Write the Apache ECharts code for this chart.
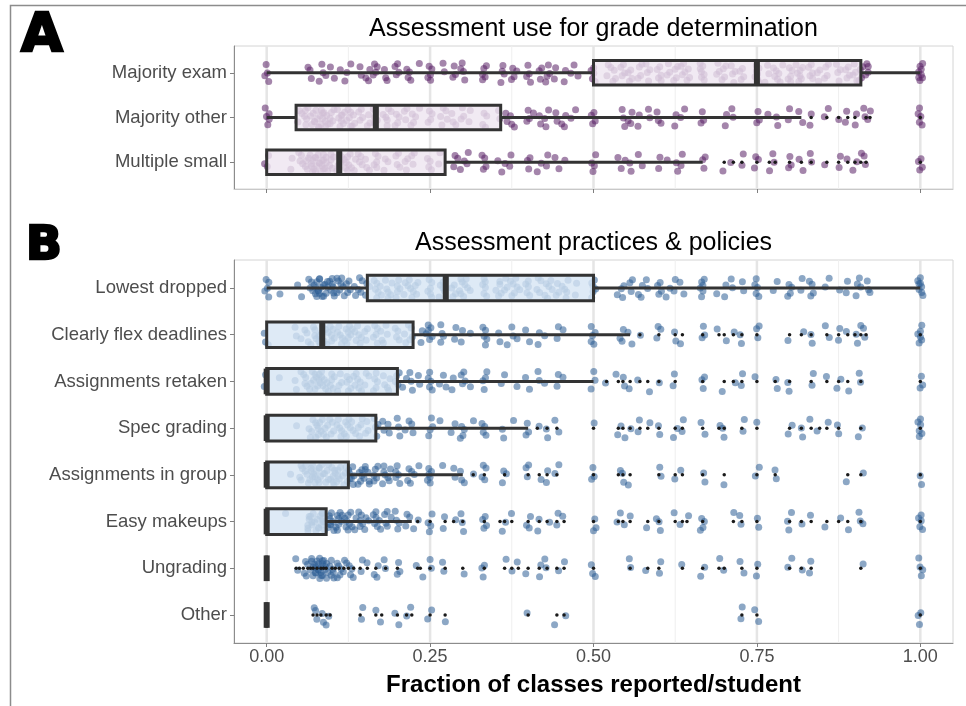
<!DOCTYPE html>
<html>
<head>
<meta charset="utf-8">
<script src="https://cdn.jsdelivr.net/npm/echarts@6/dist/echarts.min.js"></script>
<style>
  html, body { margin: 0; padding: 0; background: #ffffff; }
  #chart { width: 966px; height: 706px; }
</style>
</head>
<body>
<div id="chart"></div>
<script>
// ---- categories and axis ticks ----
const gradeUseCategories = ['Majority exam', 'Majority other', 'Multiple small'];
const practiceCategories = ['Lowest dropped', 'Clearly flex deadlines', 'Assignments retaken', 'Spec grading',
  'Assignments in group', 'Easy makeups', 'Ungrading', 'Other'];
const xTickValues = [0, 0.25, 0.5, 0.75, 1];
const xMinorValues = [0.125, 0.375, 0.625, 0.875];

// ---- student responses: [fraction of classes, number of students] ----
const majorityExam = [[0,4],[0.06,1],[0.067,2],[0.083,3],[0.091,1],[0.1,2],[0.111,1],[0.12,1],[0.125,2],[0.143,2],
  [0.154,3],[0.167,4],[0.182,2],[0.188,1],[0.2,4],[0.214,2],[0.222,2],[0.231,1],[0.25,5],[0.273,2],[0.286,3],[0.3,4],
  [0.333,5],[0.357,2],[0.364,2],[0.375,3],[0.385,1],[0.4,4],[0.417,3],[0.429,4],[0.444,2],[0.455,2],[0.467,1],[0.474,2],
  [0.5,5],[0.524,3],[0.533,3],[0.545,4],[0.556,4],[0.571,4],[0.583,4],[0.6,5],[0.615,3],[0.625,4],[0.636,4],[0.643,3],
  [0.667,7],[0.692,3],[0.7,4],[0.714,4],[0.727,4],[0.75,7],[0.765,3],[0.778,4],[0.786,3],[0.8,5],[0.812,3],[0.818,4],
  [0.833,5],[0.846,3],[0.857,4],[0.875,4],[0.889,4],[0.9,4],[0.909,4],[0.917,3],[0.923,1],[1,8]];
const majorityOther = [[0,5],[0.048,2],[0.056,3],[0.063,3],[0.071,4],[0.077,4],[0.083,6],[0.091,5],[0.1,5],[0.111,5],
  [0.118,3],[0.125,5],[0.133,3],[0.143,4],[0.154,3],[0.167,5],[0.182,3],[0.188,3],[0.2,4],[0.214,3],[0.222,3],[0.231,2],
  [0.25,4],[0.267,2],[0.273,3],[0.286,3],[0.3,3],[0.308,2],[0.333,4],[0.357,2],[0.364,2],[0.375,3],[0.4,3],[0.412,1],
  [0.417,2],[0.429,3],[0.444,2],[0.455,3],[0.467,1],[0.476,1],[0.5,4],[0.545,3],[0.556,3],[0.571,2],[0.583,2],[0.6,3],
  [0.625,2],[0.636,2],[0.667,3],[0.7,2],[0.714,2],[0.75,3],[0.769,1],[0.778,2],[0.8,2],[0.818,2],[0.833,2],[0.857,2],
  [0.875,1],[0.889,2],[0.9,2],[0.917,3],[0.923,1],[1,5]];
const multipleSmall = [[0,3],[0.04,2],[0.048,2],[0.056,3],[0.063,3],[0.067,3],[0.071,4],[0.077,5],[0.083,6],[0.091,5],
  [0.1,5],[0.111,4],[0.118,3],[0.125,5],[0.133,3],[0.143,4],[0.154,3],[0.167,5],[0.182,3],[0.2,4],[0.214,3],[0.222,3],
  [0.25,4],[0.267,2],[0.286,2],[0.294,1],[0.3,2],[0.308,2],[0.333,4],[0.357,2],[0.364,1],[0.375,2],[0.4,3],[0.417,2],
  [0.429,2],[0.444,2],[0.455,1],[0.5,4],[0.538,1],[0.545,2],[0.556,2],[0.571,2],[0.6,2],[0.615,1],[0.625,2],[0.636,2],
  [0.667,3],[0.7,1],[0.714,1],[0.727,2],[0.75,3],[0.769,1],[0.778,2],[0.8,3],[0.818,2],[0.833,2],[0.857,1],[0.875,2],
  [0.889,1],[0.9,2],[0.909,1],[0.917,2],[1,4]];

const lowestDropped = [[0,5],[0.019,1],[0.048,1],[0.056,1],[0.063,2],[0.071,4],[0.077,5],[0.083,6],[0.091,5],[0.1,5],
  [0.105,3],[0.111,4],[0.118,3],[0.125,4],[0.133,2],[0.143,4],[0.154,3],[0.167,5],[0.176,2],[0.182,3],[0.188,3],[0.2,5],
  [0.214,3],[0.222,4],[0.231,3],[0.25,6],[0.267,3],[0.273,3],[0.286,4],[0.294,2],[0.3,4],[0.308,3],[0.333,6],[0.353,2],
  [0.357,3],[0.364,3],[0.375,4],[0.385,3],[0.4,5],[0.417,4],[0.429,4],[0.438,2],[0.444,3],[0.455,3],[0.462,2],[0.471,2],
  [0.5,6],[0.533,1],[0.545,3],[0.556,3],[0.571,3],[0.583,2],[0.6,4],[0.615,2],[0.625,2],[0.636,2],[0.667,6],[0.692,1],
  [0.7,2],[0.714,2],[0.727,2],[0.75,5],[0.778,2],[0.8,4],[0.818,2],[0.833,4],[0.857,2],[0.875,1],[0.889,2],[0.9,2],
  [0.909,2],[0.917,2],[0.923,1],[1,8]];
const flexDeadlines = [[0,3],[0.045,2],[0.056,2],[0.063,2],[0.071,3],[0.077,3],[0.083,5],[0.091,4],[0.1,5],[0.111,4],
  [0.118,3],[0.125,5],[0.133,3],[0.143,4],[0.154,3],[0.167,5],[0.176,2],[0.182,3],[0.2,4],[0.214,3],[0.222,3],[0.235,2],
  [0.245,1],[0.25,5],[0.263,1],[0.267,2],[0.273,1],[0.286,2],[0.3,2],[0.308,1],[0.333,5],[0.357,2],[0.364,1],[0.375,2],
  [0.385,1],[0.4,2],[0.417,2],[0.429,1],[0.444,2],[0.455,1],[0.5,5],[0.538,1],[0.545,2],[0.556,2],[0.571,1],[0.6,3],
  [0.625,2],[0.636,1],[0.667,3],[0.692,1],[0.7,1],[0.714,1],[0.727,2],[0.75,3],[0.8,1],[0.818,1],[0.833,2],[0.857,2],
  [0.875,2],[0.889,1],[0.9,2],[0.909,1],[0.917,2],[1,6]];
const assignmentsRetaken = [[0,2],[0.017,1],[0.045,2],[0.056,3],[0.063,3],[0.071,4],[0.077,4],[0.083,5],[0.091,4],
  [0.1,5],[0.111,4],[0.125,5],[0.133,3],[0.143,4],[0.154,3],[0.167,5],[0.182,3],[0.188,2],[0.2,4],[0.211,2],[0.222,3],
  [0.231,2],[0.25,5],[0.267,2],[0.273,1],[0.286,2],[0.3,4],[0.308,1],[0.333,4],[0.357,1],[0.364,1],[0.385,1],[0.4,2],
  [0.417,2],[0.429,1],[0.444,2],[0.455,1],[0.5,3],[0.52,1],[0.538,1],[0.545,2],[0.556,1],[0.571,1],[0.583,1],[0.6,1],
  [0.625,2],[0.667,3],[0.7,1],[0.714,1],[0.727,2],[0.75,1],[0.778,2],[0.8,2],[0.833,2],[0.857,1],[0.875,2],[0.889,1],
  [0.909,2],[1,3]];
const specGrading = [[0.048,1],[0.063,2],[0.071,3],[0.077,3],[0.083,4],[0.091,4],[0.1,4],[0.111,4],[0.118,3],[0.125,4],
  [0.133,3],[0.143,4],[0.154,3],[0.167,4],[0.176,2],[0.188,2],[0.2,3],[0.214,2],[0.222,2],[0.25,4],[0.267,1],[0.286,2],
  [0.3,4],[0.316,1],[0.333,4],[0.364,2],[0.375,1],[0.4,3],[0.414,1],[0.429,2],[0.444,2],[0.5,1],[0.538,1],[0.545,2],
  [0.556,1],[0.571,2],[0.583,1],[0.6,2],[0.625,2],[0.636,2],[0.667,2],[0.692,1],[0.7,2],[0.727,2],[0.75,1],[0.8,2],
  [0.818,2],[0.833,1],[0.846,1],[0.857,1],[0.875,2],[0.909,2],[1,6]];
const assignmentsInGroup = [[0.04,1],[0.05,2],[0.056,3],[0.063,3],[0.067,3],[0.071,4],[0.077,4],[0.083,5],[0.091,5],
  [0.1,5],[0.105,3],[0.111,4],[0.118,3],[0.125,4],[0.13,2],[0.133,3],[0.143,5],[0.15,2],[0.154,3],[0.158,1],[0.167,5],
  [0.176,2],[0.182,3],[0.188,2],[0.2,5],[0.214,2],[0.222,3],[0.231,1],[0.25,6],[0.273,1],[0.286,2],[0.3,3],[0.316,1],
  [0.333,4],[0.364,3],[0.4,3],[0.417,1],[0.429,2],[0.444,2],[0.5,3],[0.538,1],[0.545,2],[0.556,1],[0.6,2],[0.625,1],
  [0.636,1],[0.667,2],[0.7,1],[0.75,2],[0.778,2],[0.889,1],[0.909,1],[1,2]];
const easyMakeups = [[0.031,1],[0.059,1],[0.063,2],[0.067,3],[0.071,3],[0.077,4],[0.083,5],[0.088,3],[0.095,3],[0.1,5],
  [0.105,2],[0.111,5],[0.118,3],[0.125,5],[0.133,3],[0.143,5],[0.154,3],[0.167,5],[0.176,2],[0.182,3],[0.188,2],[0.2,4],
  [0.214,2],[0.222,2],[0.231,1],[0.25,4],[0.273,2],[0.286,1],[0.3,3],[0.333,4],[0.357,1],[0.364,1],[0.375,1],[0.4,3],
  [0.417,2],[0.429,1],[0.444,2],[0.455,1],[0.5,3],[0.538,1],[0.545,2],[0.556,1],[0.583,1],[0.6,3],[0.625,1],[0.636,1],
  [0.643,1],[0.667,4],[0.714,1],[0.727,2],[0.75,2],[0.8,3],[0.818,1],[0.833,1],[0.857,1],[0.875,1],[0.889,1],[0.909,3],
  [1,5]];
const ungrading = [[0.045,1],[0.05,1],[0.056,2],[0.063,2],[0.067,3],[0.071,4],[0.077,5],[0.083,7],[0.087,3],[0.091,5],
  [0.1,5],[0.105,2],[0.111,4],[0.118,2],[0.125,3],[0.133,2],[0.143,2],[0.154,1],[0.167,3],[0.182,2],[0.2,3],[0.231,1],
  [0.235,1],[0.25,2],[0.273,2],[0.3,1],[0.333,3],[0.364,1],[0.375,1],[0.385,1],[0.4,1],[0.417,2],[0.429,2],[0.444,1],
  [0.455,1],[0.5,3],[0.556,2],[0.583,1],[0.6,2],[0.636,1],[0.667,2],[0.692,1],[0.7,1],[0.727,2],[0.75,2],[0.8,2],
  [0.818,1],[0.833,2],[0.909,1],[1,4]];
const otherPractice = [[0.071,1],[0.077,2],[0.083,2],[0.091,1],[0.097,1],[0.143,2],[0.167,1],[0.176,1],[0.2,2],
  [0.214,1],[0.222,1],[0.25,2],[0.273,1],[0.4,1],[0.444,1],[0.455,1],[0.727,2],[0.75,2],[1,3]];

const gradeUseValues = [majorityExam, majorityOther, multipleSmall];
const practiceValues = [lowestDropped, flexDeadlines, assignmentsRetaken, specGrading, assignmentsInGroup,
  easyMakeups, ungrading, otherPractice];

// ---- box summaries: [lower whisker, Q1, median, Q3, upper whisker] ----
const gradeUseBoxes = [[0, 0.5, 0.75, 0.909, 1], [0, 0.045, 0.167, 0.358, 0.818], [0, 0, 0.111, 0.273, 0.667]];
const practiceBoxes = [[0, 0.154, 0.274, 0.5, 1], [0, 0, 0.085, 0.224, 0.556], [0, 0, 0, 0.2, 0.5],
  [0, 0, 0, 0.167, 0.4], [0, 0, 0, 0.125, 0.3], [0, 0, 0, 0.091, 0.222], [0, 0, 0, 0, 0], [0, 0, 0, 0, 0]];

// ---- helpers ----
const FONT = "'Liberation Sans', Arial, Helvetica, sans-serif";
function frac(x) { return x - Math.floor(x); }

// Deterministic jitter: spreads each response around its row with a low-discrepancy sequence.
function jitterPoints(groups) {
  const pts = [];
  let n = 0;
  groups.forEach((group, row) => {
    group.forEach(([v, count]) => {
      for (let k = 0; k < count; k++) {
        n++;
        const dx = (frac(n * 0.7548776662 + 0.13) - 0.5) * 0.008;
        const dy = (frac(n * 0.5698402910 + 0.37) - 0.5) * 0.44;
        pts.push([v + dx, row + dy]);
      }
    });
  });
  return pts;
}

// Responses beyond the whiskers, drawn as small dots on the row centre.
function outlierPoints(groups, boxes) {
  const pts = [];
  groups.forEach((group, row) => {
    const lo = boxes[row][0], hi = boxes[row][4];
    group.forEach(([v]) => {
      if (v > hi + 1e-6 || v < lo - 1e-6) pts.push([v, row]);
    });
  });
  return pts;
}

function boxRenderer(fill) {
  return function (params, api) {
    const row = api.value(0);
    const lo = api.coord([api.value(1), row]);
    const q1 = api.coord([api.value(2), row]);
    const md = api.coord([api.value(3), row]);
    const q3 = api.coord([api.value(4), row]);
    const hi = api.coord([api.value(5), row]);
    const h = Math.abs(api.size([0, 0.275])[1]);
    const y = q1[1];
    const stroke = '#333333';
    const children = [];
    if (q1[0] - lo[0] > 0.5) {
      children.push({ type: 'line', shape: { x1: lo[0], y1: y, x2: q1[0], y2: y }, style: { stroke, lineWidth: 3 } });
    }
    if (hi[0] - q3[0] > 0.5) {
      children.push({ type: 'line', shape: { x1: q3[0], y1: y, x2: hi[0], y2: y }, style: { stroke, lineWidth: 3 } });
    }
    children.push({ type: 'rect', shape: { x: q1[0], y: y - h, width: q3[0] - q1[0], height: 2 * h },
      style: { fill, stroke, lineWidth: 3 } });
    children.push({ type: 'line', shape: { x1: md[0], y1: y - h, x2: md[0], y2: y + h }, style: { stroke, lineWidth: 6 } });
    return { type: 'group', children };
  };
}

function gridLineRenderer(params, api) {
  const x = api.coord([api.value(0), 0])[0];
  const cs = params.coordSys;
  const major = api.value(1) === 1;
  return {
    type: 'line',
    shape: { x1: x, y1: cs.y, x2: x, y2: cs.y + cs.height },
    style: { stroke: major ? '#e5e5e5' : '#efefef', lineWidth: major ? 2.5 : 1 }
  };
}

const gridLineData = xTickValues.map(v => [v, 1]).concat(xMinorValues.map(v => [v, 0]));

function xAxisFor(gridIndex, showLabels) {
  return {
    gridIndex, type: 'value', min: -0.05, max: 1.05,
    axisLine: { show: true, onZero: false, lineStyle: { color: showLabels ? '#8c8c8c' : '#c8c8c8', width: 1 } },
    axisTick: { show: true, length: 4, customValues: xTickValues, lineStyle: { color: '#7f7f7f' } },
    axisLabel: { show: showLabels, customValues: xTickValues, formatter: v => v.toFixed(2),
      fontFamily: FONT, fontSize: 18, color: '#4d4d4d', margin: 5 },
    splitLine: { show: false }
  };
}

function yAxisFor(gridIndex, categories) {
  const idx = categories.map((c, i) => i);
  return {
    gridIndex, type: 'value', min: -0.6, max: categories.length - 0.4, inverse: true,
    axisLine: { show: true, onZero: false, lineStyle: { color: '#8c8c8c', width: 1 } },
    axisTick: { show: true, length: 4, customValues: idx, lineStyle: { color: '#7f7f7f' } },
    axisLabel: { show: true, customValues: idx, formatter: v => categories[Math.round(v)],
      fontFamily: FONT, fontSize: 18.5, color: '#4d4d4d', margin: 7 },
    splitLine: { show: false }
  };
}

function panelSeries(axisIndex, groups, boxes, pointColor, boxFill) {
  return [
    { type: 'custom', xAxisIndex: axisIndex, yAxisIndex: axisIndex, z: 1, silent: true,
      renderItem: gridLineRenderer, encode: { x: 0 }, data: gridLineData },
    { type: 'scatter', xAxisIndex: axisIndex, yAxisIndex: axisIndex, z: 2, silent: true,
      symbol: 'circle', symbolSize: 7, itemStyle: { color: pointColor, opacity: 0.55 },
      data: jitterPoints(groups) },
    { type: 'custom', xAxisIndex: axisIndex, yAxisIndex: axisIndex, z: 3, silent: true,
      renderItem: boxRenderer(boxFill), encode: { x: [1, 2, 3, 4, 5], y: 0 },
      data: boxes.map((b, row) => [row].concat(b)) },
    { type: 'scatter', xAxisIndex: axisIndex, yAxisIndex: axisIndex, z: 4, silent: true,
      symbol: 'circle', symbolSize: 3.5, itemStyle: { color: '#1a1a1a', opacity: 1 },
      data: outlierPoints(groups, boxes) }
  ];
}

function textEl(text, x, y, font, fill, extra) {
  return Object.assign({
    type: 'text', x, y, z: 10, silent: true,
    style: { text, font, fill, align: 'center', verticalAlign: 'middle',
      textAlign: 'center', textVerticalAlign: 'middle' }
  }, extra || {});
}

const chart = echarts.init(document.getElementById('chart'), null, { renderer: 'canvas' });
chart.setOption({
  animation: false,
  backgroundColor: '#ffffff',
  grid: [
    { left: 234, right: 13, top: 46, height: 143, show: true, borderColor: '#d4d4d4', borderWidth: 1, backgroundColor: '#ffffff' },
    { left: 234, right: 13, top: 260, height: 383, show: true, borderColor: '#d4d4d4', borderWidth: 1, backgroundColor: '#ffffff' }
  ],
  xAxis: [xAxisFor(0, false), xAxisFor(1, true)],
  yAxis: [yAxisFor(0, gradeUseCategories), yAxisFor(1, practiceCategories)],
  series: panelSeries(0, gradeUseValues, gradeUseBoxes, '#5a2066', 'rgba(238,229,240,0.8)')
    .concat(panelSeries(1, practiceValues, practiceBoxes, '#2d5f95', 'rgba(214,229,244,0.8)')),
  graphic: [
    { type: 'polyline', silent: true, z: 10,
      shape: { points: [[10.5, 706], [10.5, 5.5], [966, 5.5]] },
      style: { stroke: '#8c8c8c', lineWidth: 1.5, fill: null } },
    textEl('A', 42, 37, "bold 54px 'DejaVu Sans', sans-serif", '#000000',
      { style: { text: 'A', font: "bold 54px 'DejaVu Sans', sans-serif", fill: '#000000', stroke: '#000000', lineWidth: 2.5,
        align: 'center', verticalAlign: 'middle', textAlign: 'center', textVerticalAlign: 'middle' } }),
    textEl('B', 44, 247, "bold 47px 'DejaVu Sans', sans-serif", '#000000',
      { style: { text: 'B', font: "bold 47px 'DejaVu Sans', sans-serif", fill: '#000000', stroke: '#000000', lineWidth: 2.5,
        align: 'center', verticalAlign: 'middle', textAlign: 'center', textVerticalAlign: 'middle' } }),
    textEl('Assessment use for grade determination', 593.5, 29.5, "25px " + FONT, '#000000'),
    textEl('Assessment practices & policies', 593.5, 243.5, "25px " + FONT, '#000000'),
    textEl('Fraction of classes reported/student', 593.5, 685, "bold 24px " + FONT, '#000000')
  ]
});
</script>
</body>
</html>
